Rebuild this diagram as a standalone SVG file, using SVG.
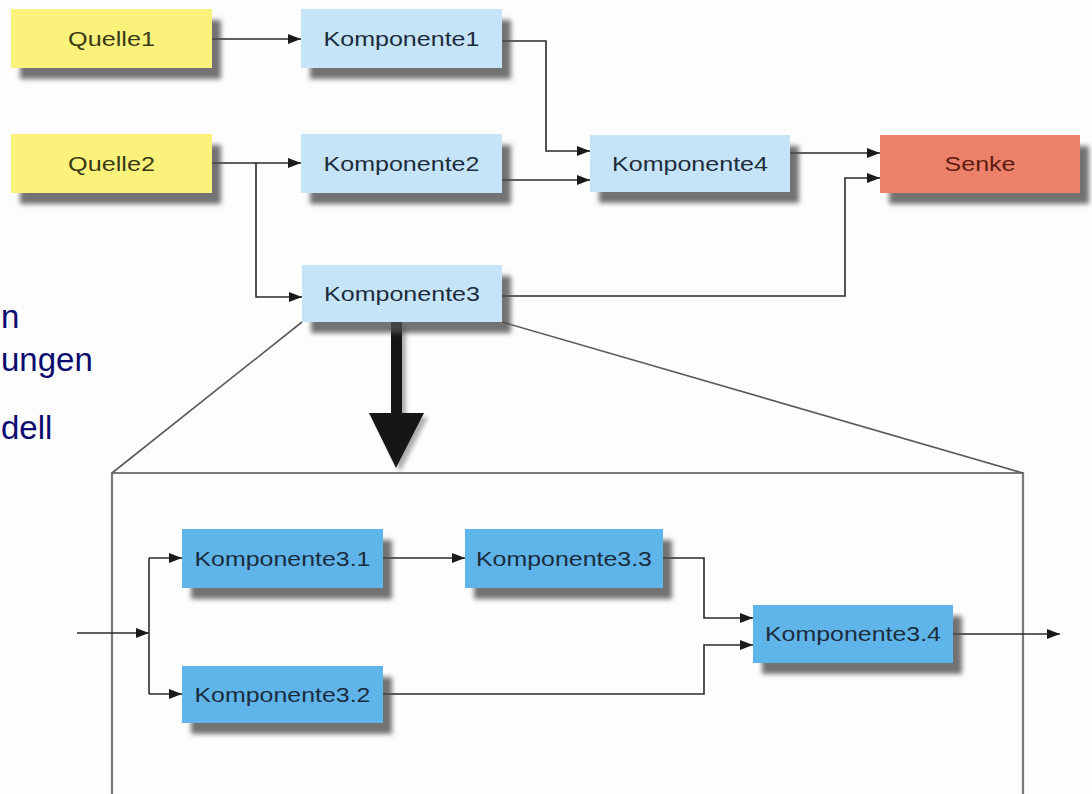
<svg xmlns="http://www.w3.org/2000/svg" width="1092" height="794" viewBox="0 0 1092 794">
  <defs>
    <filter id="shadow" x="-10%" y="-20%" width="130%" height="160%">
      <feDropShadow dx="9" dy="11" stdDeviation="2.5" flood-color="#505050" flood-opacity="0.8"/>
    </filter>
    <filter id="softShadow" x="-30%" y="-10%" width="160%" height="130%">
      <feDropShadow dx="4" dy="4" stdDeviation="2" flood-color="#777" flood-opacity="0.6"/>
    </filter>
    <marker id="arrow" viewBox="0 0 13 10" refX="13" refY="5" markerWidth="13" markerHeight="10" markerUnits="userSpaceOnUse" orient="auto">
      <path d="M0,0 L13,5 L0,10 z" fill="#1a1a1a"/>
    </marker>
    <style>
      .src { fill: #fbf27c; }
      .comp { fill: #c6e4f7; }
      .sink { fill: #ec8068; }
      .sub { fill: #5fb5ea; }
      .box { filter: url(#shadow); }
      .lbl { font-family: "Liberation Sans", Arial, sans-serif; font-size: 21px; text-anchor: middle; fill: #1c2c3c; }
      .lbl-src { fill: #3a3a14; }
      .lbl-sink { fill: #5a1c12; }
      .conn { fill: none; stroke: #2a2a2a; stroke-width: 1.6; }
      .frame { fill: none; stroke: #7a7a7a; stroke-width: 2.2; }
      .zoomline { fill: none; stroke: #5a5a5a; stroke-width: 1.6; }
      .side { font-family: "Liberation Sans", Arial, sans-serif; font-size: 33px; fill: #0b0b70; }
    </style>
  </defs>

  <rect width="1092" height="794" fill="#fdfdfd"/>

  <!-- cut-off slide text on the left -->
  <g id="side-text">
    <text class="side" x="1" y="328">n</text>
    <text class="side" x="1" y="371">ungen</text>
    <text class="side" x="1" y="439">dell</text>
  </g>

  <!-- detail frame and projection lines -->
  <g id="detail-frame">
    <path class="frame" d="M112,794 V473 H1023 V794"/>
    <path class="zoomline" d="M302,322 L112,473"/>
    <path class="zoomline" d="M502,322 L1023,473"/>
  </g>

  <!-- expansion arrow -->
  <g id="expand-arrow" filter="url(#softShadow)">
    <rect x="391" y="322" width="11" height="93" fill="#141414"/>
    <polygon points="369,413 424,413 396,468" fill="#141414"/>
  </g>

  <!-- connectors -->
  <g id="connectors">
    <path class="conn" d="M212,39 H301" marker-end="url(#arrow)"/>
    <path class="conn" d="M212,163 H301" marker-end="url(#arrow)"/>
    <path class="conn" d="M256,163 V297 H302" marker-end="url(#arrow)"/>
    <path class="conn" d="M502,41 H546 V151 H590" marker-end="url(#arrow)"/>
    <path class="conn" d="M502,180 H590" marker-end="url(#arrow)"/>
    <path class="conn" d="M790,153 H880" marker-end="url(#arrow)"/>
    <path class="conn" d="M502,296 H845 V178 H880" marker-end="url(#arrow)"/>

    <path class="conn" d="M77,633 H149" marker-end="url(#arrow)"/>
    <path class="conn" d="M149,558 V694"/>
    <path class="conn" d="M149,558 H182" marker-end="url(#arrow)"/>
    <path class="conn" d="M149,694 H182" marker-end="url(#arrow)"/>
    <path class="conn" d="M383,558 H465" marker-end="url(#arrow)"/>
    <path class="conn" d="M663,558 H704 V618 H753" marker-end="url(#arrow)"/>
    <path class="conn" d="M383,694 H704 V645 H753" marker-end="url(#arrow)"/>
    <path class="conn" d="M953,634 H1060" marker-end="url(#arrow)"/>
  </g>

  <!-- top level nodes -->
  <g id="quelle1">
    <rect class="box src" x="11" y="9" width="201" height="59"/>
    <text class="lbl lbl-src" x="111.5" y="46" textLength="87" lengthAdjust="spacingAndGlyphs">Quelle1</text>
  </g>
  <g id="quelle2">
    <rect class="box src" x="11" y="134" width="201" height="59"/>
    <text class="lbl lbl-src" x="111.5" y="171" textLength="87" lengthAdjust="spacingAndGlyphs">Quelle2</text>
  </g>
  <g id="komponente1">
    <rect class="box comp" x="301" y="9" width="201" height="59"/>
    <text class="lbl" x="401.5" y="46" textLength="156" lengthAdjust="spacingAndGlyphs">Komponente1</text>
  </g>
  <g id="komponente2">
    <rect class="box comp" x="301" y="134" width="201" height="59"/>
    <text class="lbl" x="401.5" y="171" textLength="156" lengthAdjust="spacingAndGlyphs">Komponente2</text>
  </g>
  <g id="komponente3">
    <rect class="box comp" x="302" y="265" width="200" height="57"/>
    <text class="lbl" x="402" y="301" textLength="156" lengthAdjust="spacingAndGlyphs">Komponente3</text>
  </g>
  <g id="komponente4">
    <rect class="box comp" x="590" y="135" width="200" height="57"/>
    <text class="lbl" x="690" y="171" textLength="156" lengthAdjust="spacingAndGlyphs">Komponente4</text>
  </g>
  <g id="senke">
    <rect class="box sink" x="880" y="135" width="200" height="58"/>
    <text class="lbl lbl-sink" x="980" y="171" textLength="71" lengthAdjust="spacingAndGlyphs">Senke</text>
  </g>

  <!-- refined nodes of Komponente3 -->
  <g id="komponente3-1">
    <rect class="box sub" x="182" y="529" width="201" height="59"/>
    <text class="lbl" x="282.5" y="566" textLength="176" lengthAdjust="spacingAndGlyphs">Komponente3.1</text>
  </g>
  <g id="komponente3-2">
    <rect class="box sub" x="182" y="666" width="201" height="57"/>
    <text class="lbl" x="282.5" y="702" textLength="176" lengthAdjust="spacingAndGlyphs">Komponente3.2</text>
  </g>
  <g id="komponente3-3">
    <rect class="box sub" x="465" y="529" width="198" height="59"/>
    <text class="lbl" x="564" y="566" textLength="176" lengthAdjust="spacingAndGlyphs">Komponente3.3</text>
  </g>
  <g id="komponente3-4">
    <rect class="box sub" x="753" y="605" width="200" height="58"/>
    <text class="lbl" x="853" y="641" textLength="176" lengthAdjust="spacingAndGlyphs">Komponente3.4</text>
  </g>
</svg>
